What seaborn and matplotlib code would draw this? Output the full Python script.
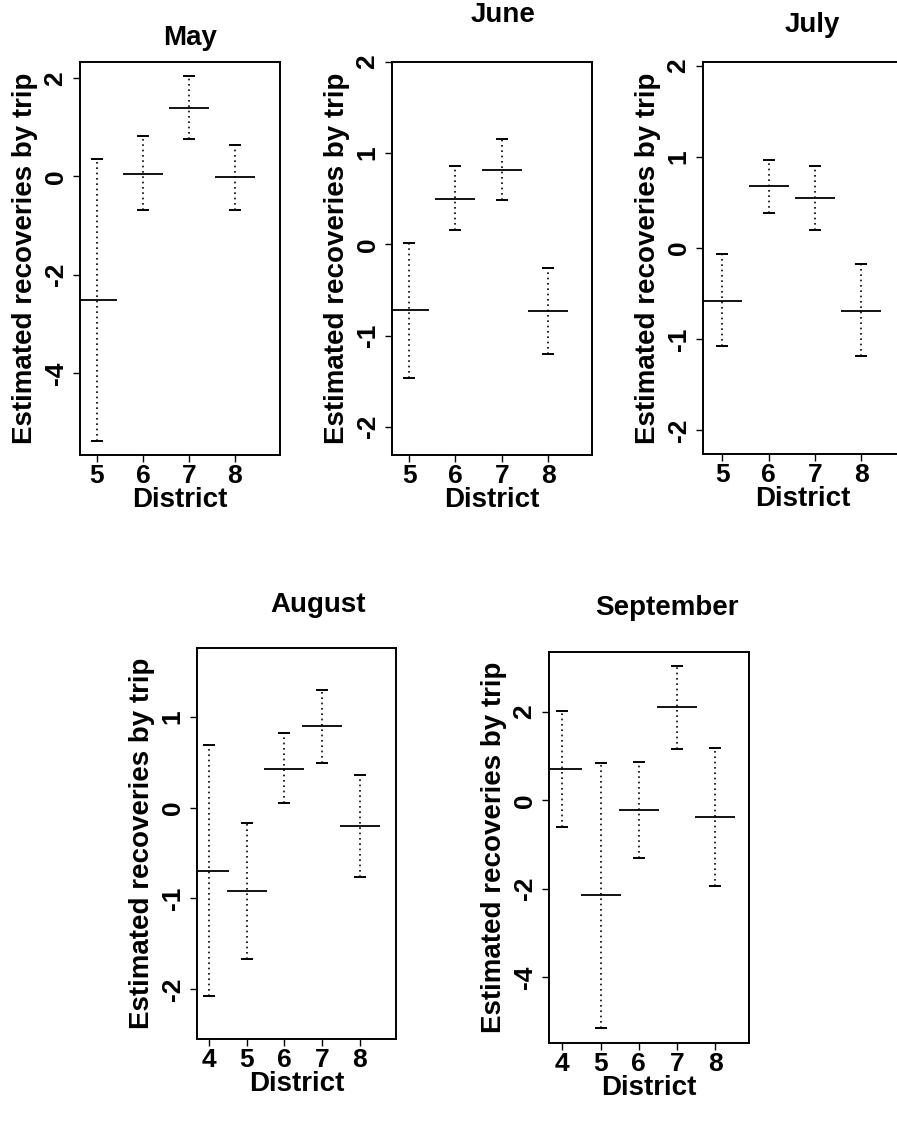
import numpy as np
import pandas as pd
import matplotlib.pyplot as plt
import seaborn as sns

# Estimated recoveries by trip, per district and month (estimate with lower/upper limits)
may_district = [5, 6, 7, 8]
may_est = [-2.51, 0.06, 1.40, -0.02]
may_lower = [-5.39, -0.69, 0.76, -0.69]
may_upper = [0.35, 0.82, 2.04, 0.65]

june_district = [5, 6, 7, 8]
june_est = [-0.72, 0.50, 0.82, -0.73]
june_lower = [-1.47, 0.16, 0.49, -1.20]
june_upper = [0.02, 0.86, 1.16, -0.26]

july_district = [5, 6, 7, 8]
july_est = [-0.58, 0.68, 0.55, -0.69]
july_lower = [-1.08, 0.38, 0.20, -1.18]
july_upper = [-0.07, 0.97, 0.90, -0.18]

aug_district = [4, 5, 6, 7, 8]
aug_est = [-0.70, -0.92, 0.43, 0.90, -0.20]
aug_lower = [-2.08, -1.67, 0.05, 0.49, -0.76]
aug_upper = [0.69, -0.165, 0.82, 1.30, 0.36]

sep_district = [4, 5, 6, 7, 8]
sep_est = [0.71, -2.15, -0.21, 2.11, -0.38]
sep_lower = [-0.59, -5.15, -1.30, 1.17, -1.94]
sep_upper = [2.02, 0.84, 0.87, 3.04, 1.19]


def long_frame(district, est, lower, upper):
    rows = []
    for d, e, lo, up in zip(district, est, lower, upper):
        rows += [(d, lo, "lower"), (d, e, "est"), (d, up, "upper")]
    return pd.DataFrame(rows, columns=["district", "value", "kind"])


sns.set_theme(style="ticks")
plt.rcParams['font.family'] = ['Liberation Sans', 'DejaVu Sans']
plt.rcParams['axes.edgecolor'] = 'black'
plt.rcParams['text.color'] = 'black'
plt.rcParams['axes.labelcolor'] = 'black'

W, H = 897, 1144
fig = plt.figure(figsize=(W / 100, H / 100), dpi=100)


def px_axes(left, top, right, bottom):
    return fig.add_axes([left / W, 1 - bottom / H, (right - left) / W, (bottom - top) / H])


def draw(ax, df, ylim, yticks, xlim):
    sns.pointplot(data=df, x="district", y="value", estimator="median",
                  errorbar=("pi", 100), color="black", marker="_",
                  markersize=29, markeredgewidth=1.3, linestyle="none",
                  err_kws={"linestyle": (0, (1, 2.2)), "linewidth": 1.2}, ax=ax)
    caps = df[df["kind"] != "est"]
    sns.pointplot(data=caps, x="district", y="value", hue="kind",
                  palette=["black", "black"], errorbar=None, marker="_",
                  markersize=8, markeredgewidth=1.4, linestyle="none",
                  legend=False, ax=ax)
    ax.set_xlim(*xlim)
    ax.set_ylim(*ylim)
    ax.set_yticks(yticks)
    ax.set_yticklabels([str(t) for t in yticks])
    for s in ax.spines.values():
        s.set_linewidth(1.4)
        s.set_color("black")
    ax.tick_params(direction="out", length=5, width=1, color="black",
                   labelsize=19, labelcolor="black")
    ax.tick_params(axis="y", pad=4)
    ax.tick_params(axis="x", pad=1.5)
    plt.setp(ax.get_yticklabels(), rotation=90, va="center", fontweight="bold")
    plt.setp(ax.get_xticklabels(), fontweight="bold")
    ax.set_xlabel("District", fontsize=20, fontweight="bold", labelpad=-1)
    ax.set_ylabel("Estimated recoveries by trip", fontsize=20,
                  fontweight="bold", labelpad=4)


panels = [
    ("May", long_frame(may_district, may_est, may_lower, may_upper),
     (80, 62, 280, 455), (-5.67, 2.33), [-4, -2, 0, 2], (-0.37, 3.98), (190, 38)),
    ("June", long_frame(june_district, june_est, june_lower, june_upper),
     (392, 62, 592, 455), (-2.31, 2.0), [-2, -1, 0, 1, 2], (-0.37, 3.95), (503, 15)),
    ("July", long_frame(july_district, july_est, july_lower, july_upper),
     (703, 62, 903, 454), (-2.26, 2.04), [-2, -1, 0, 1, 2], (-0.42, 3.9), (812, 25)),
    ("August", long_frame(aug_district, aug_est, aug_lower, aug_upper),
     (197, 648, 396, 1039), (-2.55, 1.76), [-2, -1, 0, 1], (-0.32, 4.97), (318, 605)),
    ("September", long_frame(sep_district, sep_est, sep_lower, sep_upper),
     (549, 652, 749, 1043), (-5.49, 3.36), [-4, -2, 0, 2], (-0.35, 4.88), (667, 608)),
]

for title, df, rect, ylim, yticks, xlim, tpos in panels:
    ax = px_axes(*rect)
    draw(ax, df, ylim, yticks, xlim)
    fig.text(tpos[0] / W, 1 - tpos[1] / H, title, ha="center", va="center",
             fontsize=20, fontweight="bold")

fig.savefig("out.png", dpi=100)
